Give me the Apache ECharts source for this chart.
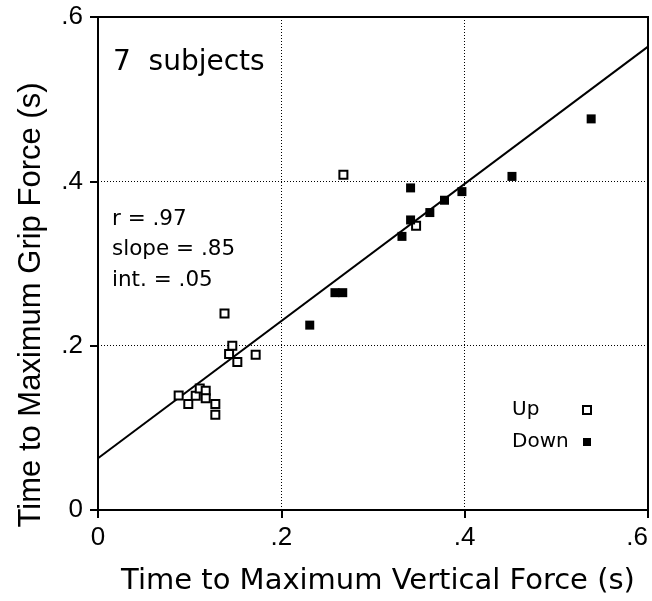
<!DOCTYPE html>
<html>
<head>
<meta charset="utf-8">
<script src="https://cdn.jsdelivr.net/npm/echarts@6/dist/echarts.min.js"></script>
<style>html,body{margin:0;padding:0;background:#fff;}#c{width:652px;height:601px;}</style>
</head>
<body>
<div id="c"></div>
<script>
var upX = [0.088, 0.0985, 0.1066, 0.111, 0.1175, 0.1175, 0.128, 0.128, 0.138, 0.143, 0.1465, 0.152, 0.172, 0.2677, 0.347];
var upY = [0.1395, 0.129, 0.139, 0.148, 0.145, 0.136, 0.129, 0.116, 0.239, 0.190, 0.200, 0.180, 0.189, 0.408, 0.346];
var downX = [0.231, 0.2585, 0.267, 0.3316, 0.341, 0.341, 0.362, 0.378, 0.397, 0.4516, 0.538];
var downY = [0.225, 0.2645, 0.2645, 0.333, 0.353, 0.392, 0.362, 0.377, 0.3875, 0.406, 0.476];
var fitX = [0, 0.6];
var fitY = [0.063, 0.564];
var tickLabels = {0: '0', 0.2: '.2', 0.4: '.4', 0.6: '.6'};

function pairs(xs, ys) { return xs.map(function (x, i) { return [x, ys[i]]; }); }
function fmt(v) { var k = Math.round(v * 10) / 10; return tickLabels[k] !== undefined ? tickLabels[k] : ''; }

var GEN = 'DejaVu Sans';
var HEL = 'Liberation Sans';
var chart = echarts.init(document.getElementById('c'), null, {renderer: 'canvas'});
var axisCommon = {
  type: 'value', min: 0, max: 0.6, interval: 0.2,
  axisLine: {show: true, lineStyle: {color: '#000', width: 2}},
  axisTick: {show: true, inside: false, length: 8, lineStyle: {color: '#000', width: 2}},
  splitLine: {show: true, lineStyle: {color: '#000', width: 1, type: [1, 2]}},
  axisLabel: {color: '#000', fontFamily: HEL, fontSize: 26, formatter: fmt}
};
var option = {
  backgroundColor: '#fff',
  animation: false,
  grid: {left: 98, right: 4, top: 17, bottom: 88, show: true, borderColor: '#000', borderWidth: 2},
  xAxis: Object.assign({}, axisCommon, {
    name: 'Time to Maximum Vertical Force (s)', nameLocation: 'middle', nameGap: 57,
    nameTextStyle: {color: '#000', fontFamily: GEN, fontSize: 29, padding: [0, 0, 0, 10]},
    axisLabel: Object.assign({}, axisCommon.axisLabel, {margin: 15, alignMaxLabel: 'right'})
  }),
  yAxis: Object.assign({}, axisCommon, {
    axisLabel: Object.assign({}, axisCommon.axisLabel, {margin: 15})
  }),
  legend: {
    show: true, orient: 'vertical', left: 512, top: 400, align: 'right', padding: 0,
    itemWidth: 8, itemHeight: 8, itemGap: 12,
    formatter: function (n) { return '{t|' + n + '}'; },
    textStyle: {color: '#000', rich: {t: {fontFamily: GEN, fontSize: 20, width: 66, align: 'left', lineHeight: 20, color: '#000'}}},
    data: [{name: 'Up', icon: 'rect'}, {name: 'Down', icon: 'rect'}]
  },
  graphic: [
    {type: 'text', x: 31, y: 305, rotation: Math.PI / 2,
      style: {text: 'Time to Maximum Grip Force (s)', font: '31px "Liberation Sans"', fill: '#000', align: 'center', verticalAlign: 'middle'}},
    {type: 'text', left: 113, top: 49, style: {text: '7  subjects', font: '28px "DejaVu Sans"', fill: '#000'}},
    {type: 'text', left: 112, top: 204, style: {text: 'r = .97\nslope = .85\nint. = .05', font: '21.5px "DejaVu Sans"', lineHeight: 30.5, fill: '#000'}}
  ],
  series: [
    {
      name: 'Fit', type: 'line', data: pairs(fitX, fitY), showSymbol: false, symbol: 'none',
      lineStyle: {color: '#000', width: 2}, silent: true, z: 1
    },
    {
      name: 'Up', type: 'scatter', data: pairs(upX, upY), symbol: 'rect', symbolSize: 8,
      itemStyle: {color: '#fff', borderColor: '#000', borderWidth: 2, opacity: 1}, z: 3
    },
    {
      name: 'Down', type: 'scatter', data: pairs(downX, downY), symbol: 'rect', symbolSize: 9,
      itemStyle: {color: '#000', borderColor: '#000', borderWidth: 0, opacity: 1}, z: 3
    }
  ]
};
chart.setOption(option);
</script>
</body>
</html>
